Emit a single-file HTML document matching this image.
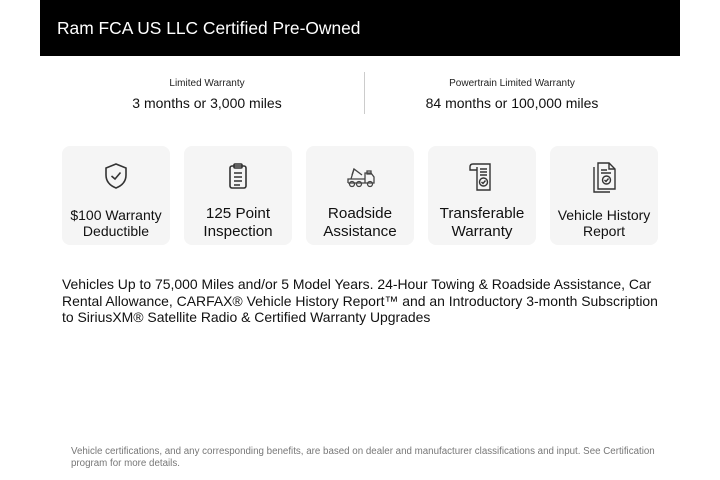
<!DOCTYPE html>
<html><head><style>
*{margin:0;padding:0;box-sizing:border-box}
body{width:720px;height:480px;background:#fff;font-family:"Liberation Sans",sans-serif;color:#111;position:relative;overflow:hidden}
.hdr{position:absolute;left:40px;top:0;width:640px;height:56px;background:#000;color:#fff;font-size:17.4px;padding:18px 0 0 17px}
.w{position:absolute;top:78px;text-align:center;width:300px}
.w .s{font-size:10px;color:#222}
.w .b{font-size:14px;margin-top:6px}
.div{position:absolute;left:364px;top:72px;width:1px;height:42px;background:#ccc}
.card{position:absolute;top:146px;width:108px;height:99px;background:#f5f5f5;border-radius:8px;text-align:center}
.card svg{position:absolute;left:40px;top:15px}
.card .t{position:absolute;left:0;right:0;top:59px;font-size:15.2px;line-height:18px}
.card .t.sm{font-size:14px;top:61px;line-height:16px}
.desc{position:absolute;left:62px;top:276px;width:600px;font-size:13.95px;line-height:16.5px}
.foot{position:absolute;left:71px;top:446px;width:590px;font-size:9.75px;color:#777;line-height:12px}
</style></head><body>
<div class="hdr">Ram FCA US LLC Certified Pre-Owned</div>
<div class="w" style="left:57px"><div class="s">Limited Warranty</div><div class="b">3 months or 3,000 miles</div></div>
<div class="div"></div>
<div class="w" style="left:362px"><div class="s">Powertrain Limited Warranty</div><div class="b">84 months or 100,000 miles</div></div>

<div class="card" style="left:62px"><svg width="28" height="30" viewBox="0 0 28 30" fill="none" stroke="#333" stroke-width="1.6"><path d="M14 3 L24 7 V14 C24 21 19 25 14 27 C9 25 4 21 4 14 V7 Z"/><path d="M9.5 15 L13 18 L18.5 11.5"/></svg><div class="t sm">$100 Warranty<br>Deductible</div></div>
<div class="card" style="left:184px"><svg width="28" height="30" viewBox="0 0 28 30" fill="none" stroke="#333" stroke-width="1.6"><rect x="6" y="5" width="16" height="22" rx="2"/><rect x="10" y="3" width="8" height="4" rx="1"/><path d="M10 12H18M10 16H18M10 20H18M10 24H16"/></svg><div class="t">125 Point<br>Inspection</div></div>
<div class="card" style="left:306px"><svg width="32" height="30" viewBox="0 0 32 30" fill="none" stroke="#444" stroke-width="1.3"><path d="M2 22 H28 V16 L25 12 H19 V22"/><path d="M2 22 V18 H19"/><path d="M5 18 L8 8 L16 14"/><path d="M8 8 L6 14"/><rect x="21" y="10" width="4" height="3"/><circle cx="6" cy="23" r="2.5"/><circle cx="13" cy="23" r="2.5"/><circle cx="24" cy="23" r="2.5"/></svg><div class="t">Roadside<br>Assistance</div></div>
<div class="card" style="left:428px"><svg width="30" height="32" viewBox="0 0 30 32" fill="none" stroke="#333" stroke-width="1.4"><path d="M5 3 H22 V29 H9 V6"/><path d="M5 3 C3 3 2 4 2 6 V9 H9"/><path d="M12 8H19M12 11H19M12 14H19"/><circle cx="15.5" cy="21" r="4"/><path d="M13.5 21 L15 22.5 L17.5 19.5"/></svg><div class="t">Transferable<br>Warranty</div></div>
<div class="card" style="left:550px"><svg width="30" height="34" viewBox="0 0 30 34" fill="none" stroke="#333" stroke-width="1.4"><path d="M4 6 V31 H20"/><path d="M8 2 H19 L25 8 V28 H8 Z"/><path d="M19 2 V8 H25"/><path d="M11 9H17M11 12H21"/><circle cx="16.5" cy="19" r="4"/><path d="M14.5 19 L16 20.5 L18.5 17.5"/></svg><div class="t sm">Vehicle History<br>Report</div></div>

<div class="desc">Vehicles Up to 75,000 Miles and/or 5 Model Years. 24-Hour Towing &amp; Roadside Assistance, Car Rental Allowance, CARFAX® Vehicle History Report™ and an Introductory 3-month Subscription to SiriusXM® Satellite Radio &amp; Certified Warranty Upgrades</div>
<div class="foot">Vehicle certifications, and any corresponding benefits, are based on dealer and manufacturer classifications and input. See Certification program for more details.</div>
</body></html>
